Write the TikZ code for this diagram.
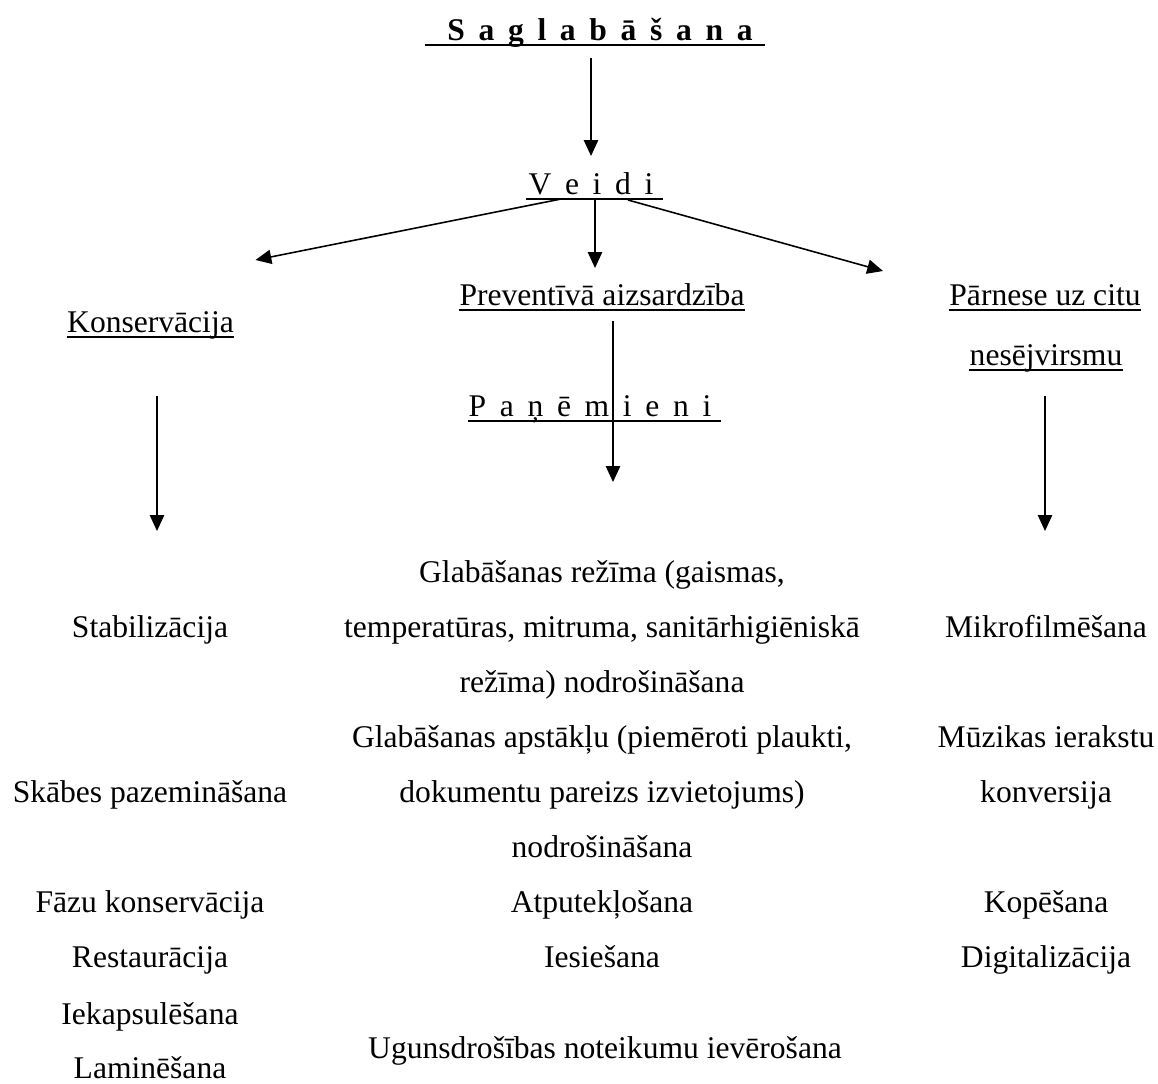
\documentclass[tikz,border=0pt]{standalone}
\usepackage{fontspec}
\setmainfont{Liberation Serif}
\usetikzlibrary{arrows.meta,calc}
\newcommand\sz{\fontsize{12}{21.05}\selectfont}

\begin{document}
\begin{tikzpicture}[x=0.38pt,y=-0.38pt,
txt/.style={font=\sz, inner sep=0pt, anchor=base, align=center},
spaced/.style={txt, execute at begin node={\spaceskip=5.2pt\relax}},
uline/.style={line width=0.6pt},
arr/.style={line width=0.6pt, -{Triangle[length=6pt,width=5.4pt]}}]
\useasboundingbox (0,0) rectangle (1158,1083);

% headings
\node[spaced, font=\sz\bfseries] (sag) at (600,40) {S a g l a b ā š a n a};
\node[spaced] (veidi) at (591,194) {V e i d i};
\node[txt] (prev) at (602,305) {Preventīvā aizsardzība};
\node[txt] (kons) at (150.5,332) {Konservācija};
\node[txt] (parn1) at (1045,305) {Pārnese uz citu};
\node[txt] (parn2) at (1046,365) {nesējvirsmu};
\node[spaced] (panem) at (590,416) {P a ņ ē m i e n i};

% underlines
\draw[line width=1.1pt] ($(sag.base west)+(-22,5)$) -- ($(sag.base east)+(12,5)$);
\draw[uline] ($(veidi.base west)+(-2,5)$) -- ($(veidi.base east)+(9,5)$);
\draw[uline] ($(panem.base west)+(0,5)$) -- ($(panem.base east)+(9,5)$);
\foreach \n in {prev,kons,parn1,parn2}
  \draw[uline] ($(\n.base west)+(0,5)$) -- ($(\n.base east)+(0,5)$);

% left column
\node[txt] (stab) at (150,637) {Stabilizācija};
\node[txt] (skab) at (150,802) {Skābes pazemināšana};
\node[txt] (fazu) at (150,912) {Fāzu konservācija};
\node[txt] (rest) at (150,967) {Restaurācija};
\node[txt] (iekap) at (150,1024) {Iekapsulēšana};
\node[txt] (lamin) at (150,1078) {Laminēšana};

% middle column (multi-line nodes sit on their last line)
\node[txt] (glab1) at (602,692.8) {Glabāšanas režīma (gaismas,\\temperatūras, mitruma, sanitārhigiēniskā\\režīma) nodrošināšana};
\node[txt] (glab2) at (602,857.8) {Glabāšanas apstākļu (piemēroti plaukti,\\dokumentu pareizs izvietojums)\\nodrošināšana};
\node[txt] (atput) at (602,912) {Atputekļošana};
\node[txt] (iesie) at (602,967) {Iesiešana};
\node[txt] (ugun) at (605,1058) {Ugunsdrošības noteikumu ievērošana};

% right column
\node[txt] (mikro) at (1046,637) {Mikrofilmēšana};
\node[txt] (muz) at (1046,802.4) {Mūzikas ierakstu\\konversija};
\node[txt] (kope) at (1046,912) {Kopēšana};
\node[txt] (digi) at (1046,967) {Digitalizācija};

% arrows
\draw[arr] ($(sag.base)+(-9,18)$) -- ($(veidi.base)+(0,-38)$);
\draw[arr] ($(veidi.base)+(-30,5)$) -- ($(kons.base)+(105,-72)$);
\draw[arr] ($(veidi.base)+(4,5)$) -- ($(prev.base)+(-7,-37)$);
\draw[arr] ($(veidi.base)+(37,6)$) -- ($(parn1.base)+(-162,-34)$);
\draw[arr] ($(prev.base)+(11,16)$) -- ($(glab1.base)+(11,-210.8)$);
\draw[arr] ($(kons.base)+(6.5,64)$) -- ($(stab.base)+(7,-106)$);
\draw[arr] ($(parn2.base)+(-1,31)$) -- ($(mikro.base)+(-1,-106)$);
\end{tikzpicture}
\end{document}
